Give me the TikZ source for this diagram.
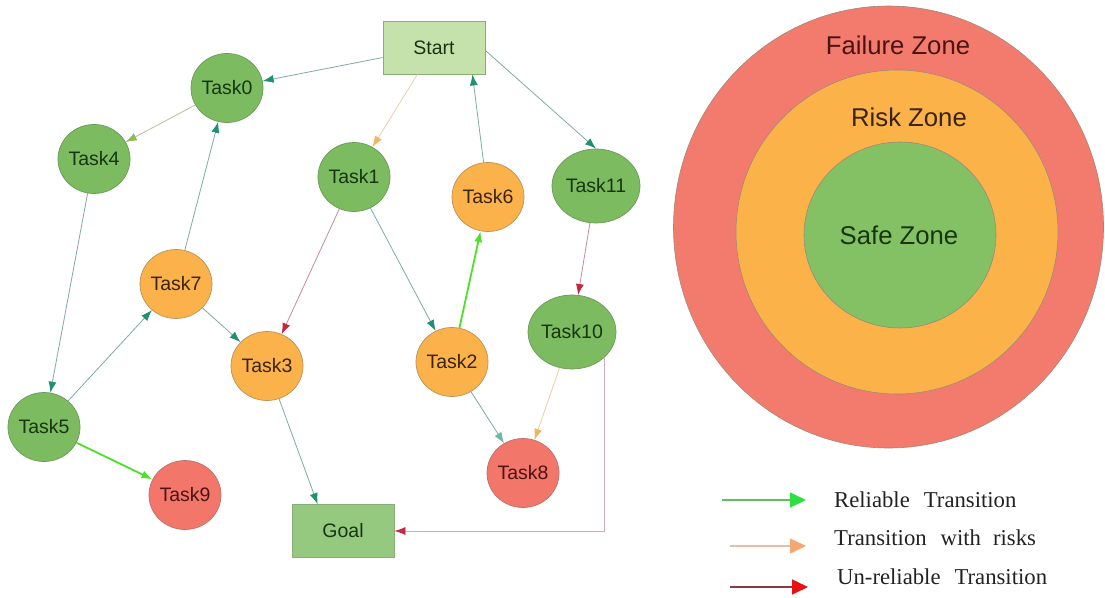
\documentclass[tikz,border=0pt]{standalone}
\usepackage{fontspec}
\setmainfont{Liberation Serif}
\newfontfamily\sansf{Liberation Sans}
\usetikzlibrary{shapes.geometric,arrows.meta,calc}
\definecolor{gfill}{HTML}{7CBB60}
\definecolor{gdraw}{HTML}{6A9A58}
\definecolor{gtext}{HTML}{163510}
\definecolor{ofill}{HTML}{FBB24A}
\definecolor{odraw}{HTML}{B8925A}
\definecolor{otext}{HTML}{3A2410}
\definecolor{rfill}{HTML}{F2776A}
\definecolor{rdraw}{HTML}{B8726C}
\definecolor{rtext}{HTML}{4A1414}
\definecolor{startfill}{HTML}{C6E2AC}
\definecolor{goalfill}{HTML}{96C980}
\definecolor{boxdraw}{HTML}{88AE78}
\definecolor{tealline}{HTML}{7EAAA6}
\definecolor{tealhead}{HTML}{1F9070}
\definecolor{lighthead}{HTML}{6AB8A5}
\definecolor{oliveline}{HTML}{B8BE9E}
\definecolor{olivehead}{HTML}{8DBB55}
\definecolor{tanline}{HTML}{F0CBA5}
\definecolor{tanhead}{HTML}{F1B463}
\definecolor{redline}{HTML}{C98A9A}
\definecolor{redhead}{HTML}{C5283D}
\definecolor{pinkline}{HTML}{D4AAB8}
\definecolor{brightgreen}{HTML}{4CE02A}
\definecolor{zred}{HTML}{F27B6E}
\definecolor{zorange}{HTML}{FBB349}
\definecolor{zgreen}{HTML}{84C164}
\definecolor{zborder}{HTML}{A08878}
\definecolor{legtext}{HTML}{222222}
\definecolor{leggreenline}{HTML}{5FBF5F}
\definecolor{leggreenhead}{HTML}{2BE040}
\definecolor{legtanline}{HTML}{E6BFAA}
\definecolor{legtanhead}{HTML}{F4A870}
\definecolor{legredline}{HTML}{8B3A45}
\definecolor{legredhead}{HTML}{E81010}
\begin{document}
\begin{tikzpicture}[x=1pt,y=-1pt,
  tasknode/.style={ellipse, minimum width=72pt, minimum height=69pt, inner sep=0pt, line width=0.7pt, font=\sansf\fontsize{19.5}{22}\selectfont},
  widenode/.style={tasknode, minimum width=88pt, minimum height=74pt},
  gnode/.style={fill=gfill, draw=gdraw, text=gtext},
  onode/.style={fill=ofill, draw=odraw, text=otext},
  rnode/.style={fill=rfill, draw=rdraw, text=rtext},
  boxnode/.style={rectangle, minimum width=102pt, minimum height=53pt, inner sep=0pt, line width=0.8pt, draw=boxdraw, text=gtext, font=\sansf\fontsize{19.5}{22}\selectfont},
  tealarrow/.style={line width=0.8pt, draw=tealline, -{Latex[length=11pt,width=8pt,color=tealhead]}},
  lightarrow/.style={line width=0.8pt, draw=tealline, -{Latex[length=11pt,width=8pt,color=lighthead]}},
  olivearrow/.style={line width=0.8pt, draw=oliveline, -{Latex[length=11pt,width=8pt,color=olivehead]}},
  tanarrow/.style={line width=0.8pt, draw=tanline, -{Latex[length=11pt,width=8pt,color=tanhead]}},
  redarrow/.style={line width=0.8pt, draw=redline, -{Latex[length=11pt,width=8pt,color=redhead]}},
  pinkarrow/.style={line width=0.8pt, draw=pinkline, -{Latex[length=11pt,width=8pt,color=redhead]}},
  greenarrow/.style={line width=1.8pt, draw=brightgreen, -{Latex[length=11pt,width=8pt,color=brightgreen]}},
  zone/.style={ellipse, inner sep=0pt, line width=0.6pt, draw=zborder},
  zonetext/.style={font=\sansf\fontsize{25.7}{28}\selectfont, inner sep=0pt},
  legtextstyle/.style={anchor=west, inner sep=0pt, text=legtext, font=\fontsize{22.7}{25}\selectfont},
]
\useasboundingbox (0,0) rectangle (1105,597);
\fill[white] (0,0) rectangle (1105,597);

% zones
\node[zone, fill=zred, minimum width=430pt, minimum height=442pt] (failure) at (888.5,227) {};
\node[zone, fill=zorange, minimum width=322pt, minimum height=324pt] (risk) at (897,232) {};
\node[zone, fill=zgreen, minimum width=192pt, minimum height=186pt] (safe) at (900,235) {};
\node[zonetext, text=rtext] (failuretext) at (898,45) {Failure Zone};
\node[zonetext, text=otext] (risktext) at (909,117) {Risk Zone};
\node[zonetext, text=gtext] (safetext) at (899,235) {Safe Zone};

% nodes
\node[boxnode, fill=startfill] (Start) at (434,47.5) {Start};
\node[boxnode, fill=goalfill] (Goal) at (343,531) {Goal};
\node[tasknode, gnode] (Task0) at (227,88) {Task0};
\node[tasknode, gnode] (Task4) at (94,159) {Task4};
\node[tasknode, gnode] (Task1) at (354,177) {Task1};
\node[tasknode, onode] (Task6) at (488,197) {Task6};
\node[widenode, gnode] (Task11) at (596,186) {Task11};
\node[tasknode, onode] (Task7) at (176,284) {Task7};
\node[tasknode, onode] (Task3) at (267,366) {Task3};
\node[tasknode, onode] (Task2) at (452,362) {Task2};
\node[widenode, gnode] (Task10) at (572,332) {Task10};
\node[tasknode, gnode] (Task5) at (44,427) {Task5};
\node[tasknode, rnode] (Task9) at (185,495) {Task9};
\node[tasknode, rnode] (Task8) at (523,473) {Task8};

% edges
\draw[tealarrow] (Start) -- (Task0);
\draw[olivearrow] (Task0) -- (Task4);
\draw[tanarrow] (Start) -- (Task1);
\draw[tealarrow] (Task6) -- ($(Start.south east)+(-13,0)$);
\draw[tealarrow] ($(Start.east)+(0,3)$) -- (Task11.north);
\draw[tealarrow] (Task7) -- (Task0);
\draw[tealarrow] (Task4) -- (Task5);
\draw[tealarrow] (Task5) -- (Task7);
\draw[greenarrow] (Task5) -- (Task9);
\draw[tealarrow] (Task7) -- (Task3);
\draw[redarrow] (Task1) -- (Task3);
\draw[tealarrow] (Task1) -- (Task2);
\draw[greenarrow] (Task2) -- (Task6);
\draw[redarrow] (Task11) -- (Task10);
\draw[tanarrow] (Task10) -- (Task8);
\draw[lightarrow] (Task2) -- (Task8);
\draw[tealarrow] (Task3) -- ($(Goal.north west)+(26,0)$);
\draw[pinkarrow] (Task10.-38) |- (Goal.east);

% legend
\coordinate (l1a) at (722,500);
\coordinate (l1b) at (806,500);
\coordinate (l2a) at (730,546);
\coordinate (l2b) at (806,546);
\coordinate (l3a) at (730,587);
\coordinate (l3b) at (808,587);
\draw[line width=1.5pt, draw=leggreenline, -{Triangle[length=16pt,width=15pt,color=leggreenhead]}] (l1a) -- (l1b);
\draw[line width=1.5pt, draw=legtanline, -{Triangle[length=16pt,width=15pt,color=legtanhead]}] (l2a) -- (l2b);
\draw[line width=1.5pt, draw=legredline, -{Triangle[length=16pt,width=15pt,color=legredhead]}] (l3a) -- (l3b);
\node[legtextstyle] (lt1) at (834,500) {Reliable\hskip 14pt Transition};
\node[legtextstyle] (lt2) at (834,538) {Transition\hskip 14pt with\hskip 12pt risks};
\node[legtextstyle] (lt3) at (837,577) {Un-reliable\hskip 14pt Transition};
\end{tikzpicture}
\end{document}
